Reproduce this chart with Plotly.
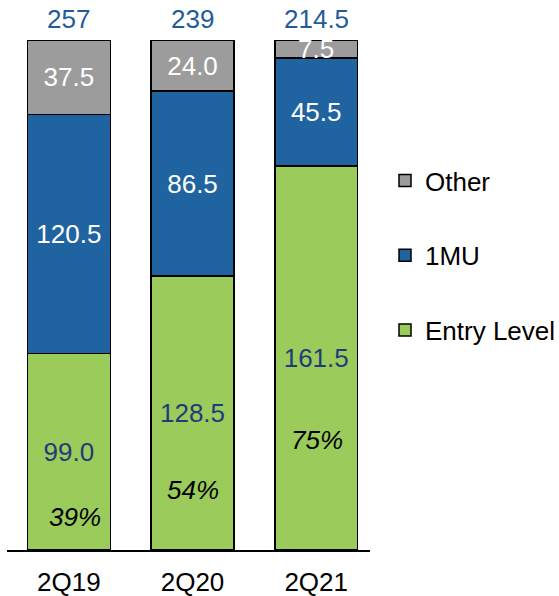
import plotly.graph_objects as go

categories = ["2Q19", "2Q20", "2Q21"]
entry_level = [99.0, 128.5, 161.5]
one_mu = [120.5, 86.5, 45.5]
other = [37.5, 24.0, 7.5]
totals = [257, 239, 214.5]
total_labels = ["257", "239", "214.5"]
share_labels = ["39%", "54%", "75%"]

# label placement (style, not data)
share_y = [6.5, 11.8, 21.6]
share_dx = [0.05, 0.0, 0.01]

FONT = "Liberation Sans, Arial, sans-serif"
FS = 26
GREEN = "#9BCB5B"
BLUE = "#1F64A0"
GRAY = "#9D9C9D"
NAVY = "#1F3C7A"
TOTAL_BLUE = "#1F5C99"

fig = go.Figure()
series = [
    ("Entry Level", entry_level, GREEN, NAVY, 3),
    ("1MU", one_mu, BLUE, "white", 2),
    ("Other", other, GRAY, "white", 1),
]
for i, (name, vals, col, tcol, rank) in enumerate(series):
    fig.add_trace(go.Bar(
        x=categories, y=vals, name=name, legendgroup=name, legendrank=rank,
        marker=dict(color=col, line=dict(color="black", width=1.5)),
        text=[f"{v:.1f}" for v in vals],
        textposition="inside", insidetextanchor="middle",
        textfont=dict(color=tcol, size=FS, family=FONT),
        cliponaxis=False,
    ))

annotations = []
for i, c in enumerate(categories):
    annotations.append(dict(x=c, y=100, xref="x", yref="y", text=total_labels[i],
                            showarrow=False, yanchor="bottom", yshift=4,
                            font=dict(size=FS, color=TOTAL_BLUE, family=FONT)))
    annotations.append(dict(x=i + share_dx[i], y=share_y[i], xref="x", yref="y",
                            text=share_labels[i], showarrow=False,
                            font=dict(size=FS, color="black", family=FONT, style="italic")))

fig.update_layout(
    width=559, height=596,
    margin=dict(l=7, r=189, t=40, b=46, autoexpand=False),
    barmode="stack", barnorm="percent", bargap=0.33,
    plot_bgcolor="white", paper_bgcolor="white",
    font=dict(family=FONT, size=FS, color="black"),
    uniformtext=dict(minsize=FS, mode="show"),
    xaxis=dict(range=[-0.5, 2.435], showgrid=False, showline=True, linecolor="black",
               linewidth=1.5, ticks="", tickfont=dict(size=FS, family=FONT, color="black"),
               ticklabelstandoff=8, automargin=False),
    yaxis=dict(range=[0, 100], visible=False, automargin=False),
    legend=dict(xref="container", yref="container", x=385/559, y=1 - 157/596,
                xanchor="left", yanchor="top", traceorder="grouped",
                tracegroupgap=38, font=dict(size=FS, family=FONT, color="black"),
                itemwidth=30, bgcolor="rgba(0,0,0,0)"),
    annotations=annotations,
    showlegend=True,
)

fig.write_html("out.html")
